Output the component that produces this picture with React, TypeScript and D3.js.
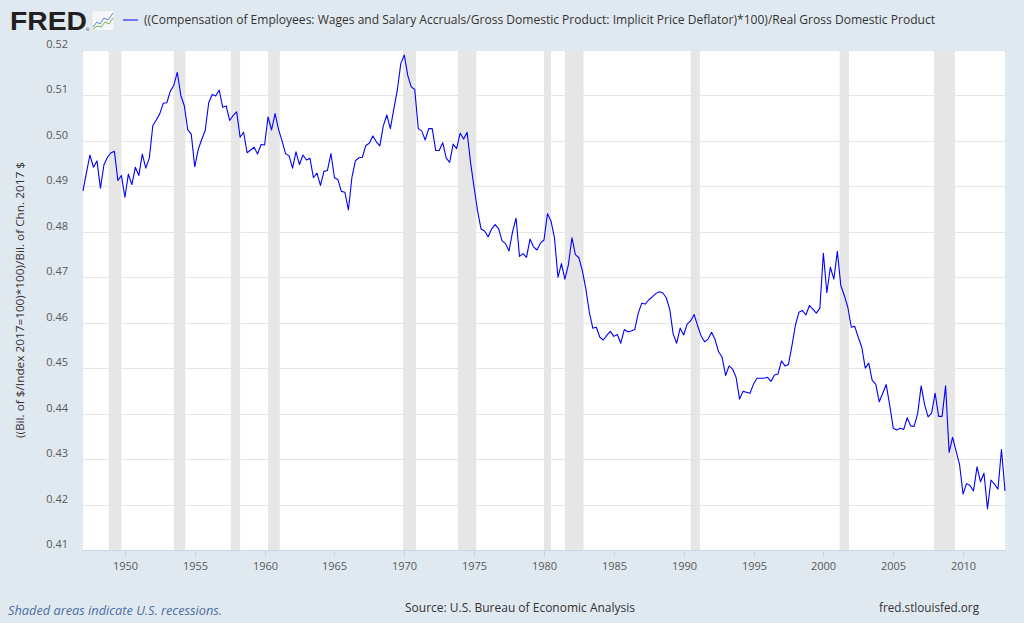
import React from "react";
import * as d3 from "d3";

const START_YEAR = 1947;

// Quarterly values, 1947Q1 .. 2013Q1
const ratioValues: number[] = [
  0.4890, 0.4930, 0.4969, 0.4942,
  0.4956, 0.4896, 0.4947, 0.4964,
  0.4974, 0.4977, 0.4913, 0.4924,
  0.4876, 0.4927, 0.4904, 0.4942,
  0.4924, 0.4971, 0.4940, 0.4962,
  0.5034, 0.5046, 0.5060, 0.5083,
  0.5084, 0.5109, 0.5122, 0.5151,
  0.5100, 0.5078, 0.5025, 0.5015,
  0.4943, 0.4981, 0.5003, 0.5023,
  0.5084, 0.5102, 0.5099, 0.5112,
  0.5074, 0.5077, 0.5045, 0.5056,
  0.5064, 0.5008, 0.5019, 0.4974,
  0.4980, 0.4986, 0.4971, 0.4992,
  0.4991, 0.5053, 0.5024, 0.5060,
  0.5025, 0.5000, 0.4972, 0.4967,
  0.4940, 0.4976, 0.4948, 0.4969,
  0.4958, 0.4962, 0.4919, 0.4929,
  0.4902, 0.4933, 0.4935, 0.4972,
  0.4919, 0.4915, 0.4889, 0.4887,
  0.4848, 0.4919, 0.4956, 0.4963,
  0.4964, 0.4990, 0.4995, 0.5011,
  0.4998, 0.4989, 0.5033, 0.5057,
  0.5027, 0.5070, 0.5111, 0.5170,
  0.5189, 0.5144, 0.5119, 0.5113,
  0.5027, 0.5022, 0.5002, 0.5027,
  0.5027, 0.4979, 0.4979, 0.4996,
  0.4962, 0.4953, 0.4993, 0.4983,
  0.5017, 0.5004, 0.5019, 0.4951,
  0.4897, 0.4846, 0.4806, 0.4802,
  0.4789, 0.4806, 0.4816, 0.4807,
  0.4780, 0.4774, 0.4758, 0.4800,
  0.4830, 0.4746, 0.4752, 0.4744,
  0.4784, 0.4767, 0.4760, 0.4775,
  0.4782, 0.4840, 0.4824, 0.4787,
  0.4700, 0.4730, 0.4696, 0.4728,
  0.4787, 0.4750, 0.4743, 0.4714,
  0.4674, 0.4623, 0.4588, 0.4590,
  0.4568, 0.4562, 0.4572, 0.4581,
  0.4570, 0.4574, 0.4555, 0.4585,
  0.4580, 0.4582, 0.4585, 0.4621,
  0.4643, 0.4641, 0.4650, 0.4657,
  0.4664, 0.4668, 0.4666, 0.4655,
  0.4630, 0.4575, 0.4555, 0.4588,
  0.4573, 0.4597, 0.4604, 0.4618,
  0.4593, 0.4571, 0.4558, 0.4564,
  0.4579, 0.4563, 0.4536, 0.4524,
  0.4484, 0.4505, 0.4498, 0.4480,
  0.4432, 0.4449, 0.4447, 0.4445,
  0.4465, 0.4478, 0.4478, 0.4478,
  0.4480, 0.4471, 0.4485, 0.4487,
  0.4516, 0.4505, 0.4508, 0.4549,
  0.4595, 0.4623, 0.4627, 0.4617,
  0.4638, 0.4630, 0.4621, 0.4632,
  0.4753, 0.4666, 0.4722, 0.4696,
  0.4757, 0.4682, 0.4660, 0.4634,
  0.4590, 0.4592, 0.4568, 0.4546,
  0.4500, 0.4511, 0.4473, 0.4465,
  0.4426, 0.4445, 0.4464, 0.4418,
  0.4368, 0.4364, 0.4368, 0.4365,
  0.4391, 0.4373, 0.4372, 0.4400,
  0.4461, 0.4420, 0.4393, 0.4401,
  0.4445, 0.4394, 0.4394, 0.4461,
  0.4315, 0.4348, 0.4318, 0.4288,
  0.4223, 0.4246, 0.4242, 0.4230,
  0.4283, 0.4250, 0.4269, 0.4191,
  0.4254, 0.4245, 0.4234, 0.4321,
  0.4230,
];

const recessionStarts = ["1948-11-01", "1953-07-01", "1957-08-01", "1960-04-01", "1969-12-01", "1973-11-01", "1980-01-01", "1981-07-01", "1990-07-01", "2001-03-01", "2007-12-01"];
const recessionEnds = ["1949-10-01", "1954-05-01", "1958-04-01", "1961-02-01", "1970-11-01", "1975-03-01", "1980-07-01", "1982-11-01", "1991-03-01", "2001-11-01", "2009-06-01"];

const xTickYears = [1950, 1955, 1960, 1965, 1970, 1975, 1980, 1985, 1990, 1995, 2000, 2005, 2010];
const yTickValues = [0.41, 0.42, 0.43, 0.44, 0.45, 0.46, 0.47, 0.48, 0.49, 0.50, 0.51, 0.52];

const seriesTitle = "((Compensation of Employees: Wages and Salary Accruals/Gross Domestic Product: Implicit Price Deflator)*100)/Real Gross Domestic Product";
const yAxisTitle = "((Bil. of $/Index 2017=100)*100)/Bil. of Chn. 2017 $";
const footerLeft = "Shaded areas indicate U.S. recessions.";
const footerCenter = "Source: U.S. Bureau of Economic Analysis";
const footerRight = "fred.stlouisfed.org";

export default function App() {
  const W = 1024, H = 623;
  const left = 83, right = 1005, top = 50, bottom = 550;
  const font = "'Open Sans', 'Noto Sans', sans-serif";

  const x = d3.scaleUtc()
    .domain([new Date(Date.UTC(START_YEAR, 0, 1)), new Date(Date.UTC(2013, 0, 1))])
    .range([left, right]);
  const y = d3.scaleLinear().domain([0.41, 0.52]).range([bottom, top]);

  const data = ratioValues.map((v, i) => ({ date: new Date(Date.UTC(START_YEAR, i * 3, 1)), v }));
  const line = d3.line<{ date: Date; v: number }>()
    .x((d) => x(d.date))
    .y((d) => y(d.v));

  const parse = (s: string) => new Date(s + "T00:00:00Z");

  return (
    <svg width={W} height={H} style={{ position: "fixed", left: 0, top: 0, display: "block" }} fontFamily={font}>
      <rect x={0} y={0} width={W} height={H} fill="#e1e9f0" />
      {/* FRED logo */}
      <text x={10} y={30} fontFamily="'Liberation Sans', Arial, sans-serif" fontWeight="bold" fontSize={25} fill="#231f20" textLength={77} lengthAdjust="spacingAndGlyphs">FRED</text>
      <text x={86} y={31} fontSize={4} fill="#231f20">®</text>
      <rect x={92} y={10.5} width={22} height={20} rx={2} fill="#f4f6f8" stroke="#d8dde2" strokeWidth={0.5} />
      <polyline points="93,27 97,22 100,24 104,18 108,20 113,13" fill="none" stroke="#5b8ac6" strokeWidth={1} />
      <polyline points="93,29 97,26 101,27 105,22 109,24 113,18" fill="none" stroke="#7ab04d" strokeWidth={1} />
      {/* legend */}
      <line x1={123} x2={138} y1={20} y2={20} stroke="#0000ff" strokeWidth={1} />
      <text x={144} y={24} fontSize={12} fill="#333" textLength={791} lengthAdjust="spacingAndGlyphs">{seriesTitle}</text>

      {/* plot */}
      <rect x={left} y={top} width={right - left} height={bottom - top} fill="#ffffff" />
      {recessionStarts.map((s, i) => (
        <rect key={s} x={x(parse(s))} y={top} width={x(parse(recessionEnds[i])) - x(parse(s))} height={bottom - top} fill="#e6e6e6" />
      ))}
      {yTickValues.map((t) => (
        <line key={t} x1={left} x2={right} y1={Math.round(y(t)) + 0.5} y2={Math.round(y(t)) + 0.5} stroke="#e6e6e6" strokeWidth={1} />
      ))}
      {yTickValues.map((t) => (
        <text key={"l" + t} x={68} y={y(t) - 2} fontSize={11} fill="#595959" textAnchor="end">{t.toFixed(2)}</text>
      ))}
      <line x1={left} x2={right} y1={bottom + 0.5} y2={bottom + 0.5} stroke="#ccd6eb" strokeWidth={1} />
      {xTickYears.map((yr) => {
        const px = Math.round(x(new Date(Date.UTC(yr, 0, 1)))) + 0.5;
        return (
          <g key={yr}>
            <line x1={px} x2={px} y1={bottom} y2={bottom + 7} stroke="#ccd6eb" strokeWidth={1} />
            <text x={px} y={570} fontSize={11} fill="#595959" textAnchor="middle">{String(yr)}</text>
          </g>
        );
      })}
      <path d={line(data) || ""} fill="none" stroke="#0000ff" strokeWidth={1.1} strokeLinejoin="round" />

      <text transform={`translate(24,${(top + bottom) / 2}) rotate(-90)`} fontSize={11} fill="#333" textAnchor="middle" textLength={276} lengthAdjust="spacingAndGlyphs">{yAxisTitle}</text>

      {/* footer */}
      <text x={8} y={615} fontSize={12} fontStyle="italic" fill="#4a6fa5" textLength={214} lengthAdjust="spacingAndGlyphs">{footerLeft}</text>
      <text x={405} y={612} fontSize={12} fill="#333" textLength={230} lengthAdjust="spacingAndGlyphs">{footerCenter}</text>
      <text x={879} y={612} fontSize={12} fill="#333" textLength={100} lengthAdjust="spacingAndGlyphs">{footerRight}</text>
    </svg>
  );
}
